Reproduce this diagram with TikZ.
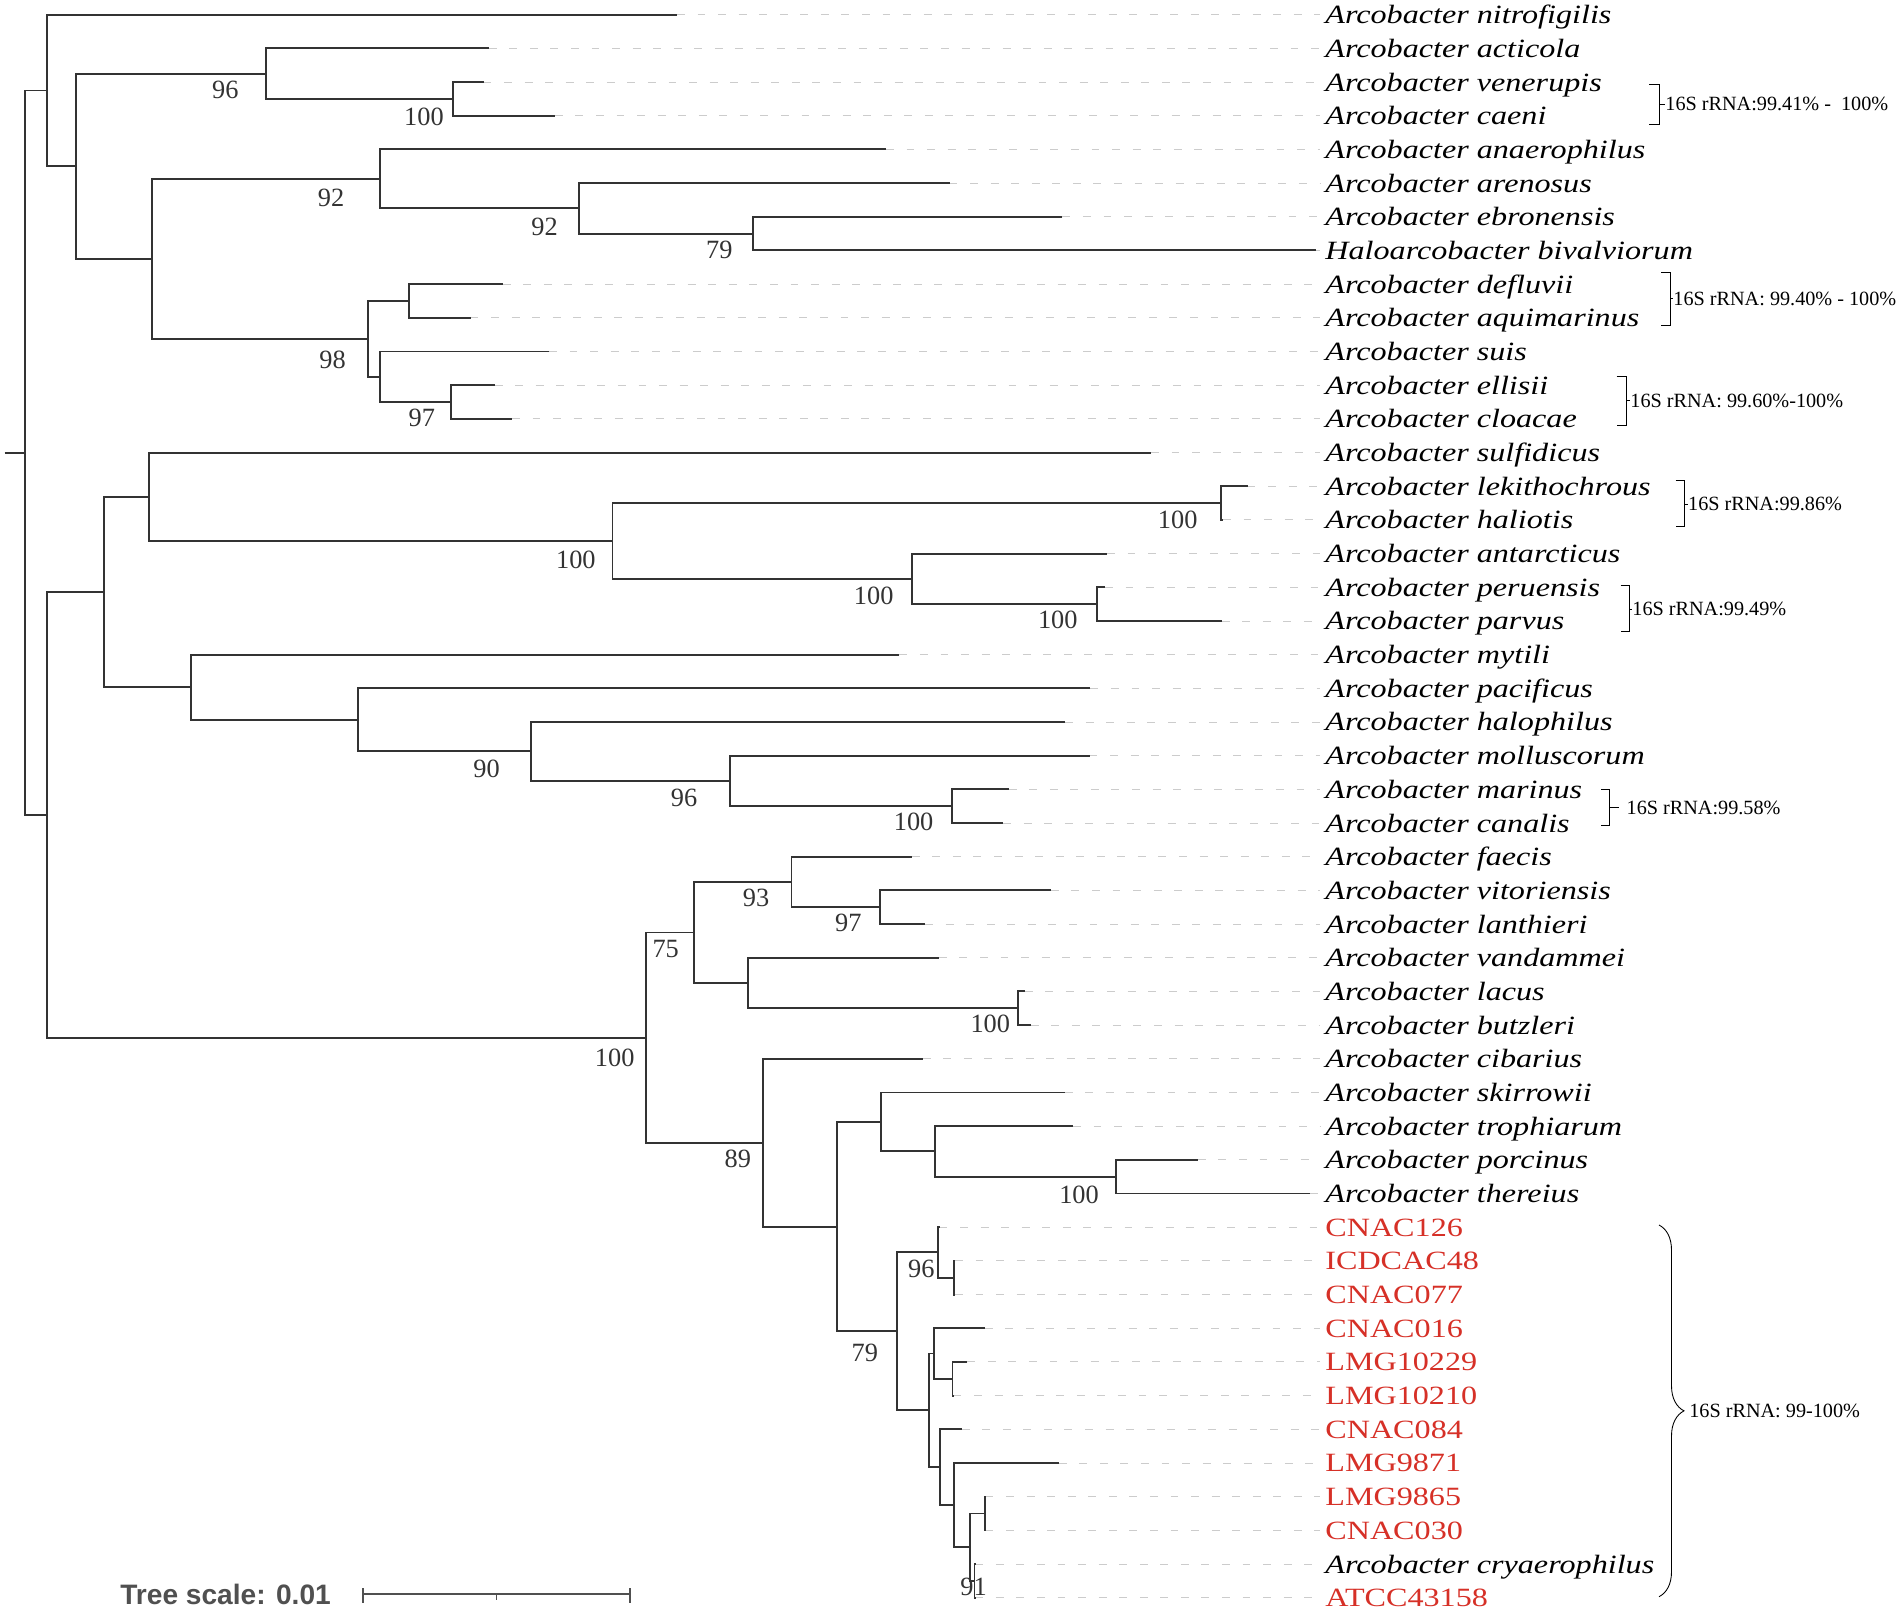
\documentclass[tikz,border=0pt]{standalone}
\usepackage{fontspec}
\setmainfont{Liberation Serif}
\newfontfamily\leaffont{Liberation Serif}[FakeStretch=1.22]
\newfontfamily\barfont{Liberation Sans}
\usepackage{tikz}
\usetikzlibrary{calc,decorations.pathreplacing}
\definecolor{branchgray}{HTML}{333333}
\definecolor{leadergray}{HTML}{CCCCCC}
\definecolor{isolatered}{RGB}{214,48,39}
\definecolor{scalegray}{HTML}{505050}
\tikzset{
	branch/.style = {draw=branchgray, line width=1.1pt},
	leader/.style = {draw=leadergray, line width=0.5pt, dash pattern=on 4.5pt off 7.2pt, shorten >=0.1cm},
	leaflabel/.style = {anchor=base west, inner sep=0pt, font=\leaffont\fontsize{15}{18}\selectfont},
	boot/.style = {inner sep=0pt, text=branchgray, font=\fontsize{15}{18}\selectfont},
	bracket/.style = {draw=black, line width=0.5pt},
	bracketlabel/.style = {anchor=west, inner sep=0pt, font=\fontsize{11.5}{14}\selectfont},
}
\newcommand{\taxon}[1]{\itshape #1}
\newcommand{\isolate}[1]{\color{isolatered}#1}
% clade: name, x of the split, upper child, lower child
\newcommand{\clade}[4]{%
	\path ($(#3)!.5!(#4)$) coordinate (#1m);
	\coordinate (#1x) at (#2,0);
	\coordinate (#1) at (#1x |- #1m);
	\draw[branch] (#3) -| (#1) |- (#4);
}

\begin{document}
\begin{tikzpicture}[x=0.02cm, y=-0.02cm]
	\useasboundingbox (0,0) rectangle (1902,1609);

	% leaves: end of branch / label
	\foreach \xe/\txt [count=\i from 0] in {
		677/\taxon{Arcobacter nitrofigilis},
		488.8/\taxon{Arcobacter acticola},
		483.5/\taxon{Arcobacter venerupis},
		554.9/\taxon{Arcobacter caeni},
		886/\taxon{Arcobacter anaerophilus},
		949.5/\taxon{Arcobacter arenosus},
		1062.4/\taxon{Arcobacter ebronensis},
		1316/\taxon{Haloarcobacter bivalviorum},
		502.7/\taxon{Arcobacter defluvii},
		470.5/\taxon{Arcobacter aquimarinus},
		549/\taxon{Arcobacter suis},
		494.6/\taxon{Arcobacter ellisii},
		512/\taxon{Arcobacter cloacae},
		1151/\taxon{Arcobacter sulfidicus},
		1247.5/\taxon{Arcobacter lekithochrous},
		1223/\taxon{Arcobacter haliotis},
		1107/\taxon{Arcobacter antarcticus},
		1105/\taxon{Arcobacter peruensis},
		1221.7/\taxon{Arcobacter parvus},
		899.4/\taxon{Arcobacter mytili},
		1090.4/\taxon{Arcobacter pacificus},
		1065.2/\taxon{Arcobacter halophilus},
		1089.5/\taxon{Arcobacter molluscorum},
		1008.7/\taxon{Arcobacter marinus},
		1003.2/\taxon{Arcobacter canalis},
		911.8/\taxon{Arcobacter faecis},
		1050.9/\taxon{Arcobacter vitoriensis},
		925.1/\taxon{Arcobacter lanthieri},
		938.9/\taxon{Arcobacter vandammei},
		1024.8/\taxon{Arcobacter lacus},
		1030.7/\taxon{Arcobacter butzleri},
		922.8/\taxon{Arcobacter cibarius},
		1064.7/\taxon{Arcobacter skirrowii},
		1073/\taxon{Arcobacter trophiarum},
		1197.9/\taxon{Arcobacter porcinus},
		1310.4/\taxon{Arcobacter thereius},
		939.5/\isolate{CNAC126},
		955/\isolate{ICDCAC48},
		955/\isolate{CNAC077},
		984.7/\isolate{CNAC016},
		967.3/\isolate{LMG10229},
		953.5/\isolate{LMG10210},
		961.7/\isolate{CNAC084},
		1058.7/\isolate{LMG9871},
		985.5/\isolate{LMG9865},
		985.5/\isolate{CNAC030},
		975.3/\taxon{Arcobacter cryaerophilus},
		975.3/\isolate{ATCC43158}}{
		\coordinate (l\i) at (\xe, {14.7+33.68*\i});
		\node[leaflabel] (t\i) at (1325, {23.7+33.68*\i}) {\txt};
		\draw[leader] (l\i) -- (t\i.west |- l\i);
	}

	% upper part of the tree
	\clade{E}{452.7}{l2}{l3}
	\clade{C}{266}{l1}{E}
	\clade{I}{752.9}{l6}{l7}
	\clade{H}{579}{l5}{I}
	\clade{F}{380.3}{l4}{H}
	\clade{J}{408.9}{l8}{l9}
	\clade{L}{451.3}{l11}{l12}
	\clade{K}{379.9}{l10}{L}
	\clade{G}{368.3}{J}{K}
	\clade{D}{152.2}{F}{G}
	\clade{B}{75.9}{C}{D}
	\clade{A}{46.9}{l0}{B}

	% middle part
	\clade{R}{1220.8}{l14}{l15}
	\clade{T}{1097.3}{l17}{l18}
	\clade{S}{911.8}{l16}{T}
	\clade{Q}{612.5}{R}{S}
	\clade{O}{149.1}{l13}{Q}
	\clade{X}{951.7}{l23}{l24}
	\clade{W}{730.4}{l22}{X}
	\clade{V}{531.2}{l21}{W}
	\clade{U}{357.6}{l20}{V}
	\clade{P}{190.6}{l19}{U}
	\clade{N}{103.6}{O}{P}

	% lower part
	\clade{AB}{879.7}{l26}{l27}
	\clade{AA}{791.5}{l25}{AB}
	\clade{AD}{1017.9}{l29}{l30}
	\clade{AC}{747.9}{l28}{AD}
	\clade{Z}{694.1}{AA}{AC}
	\clade{AI}{1115.7}{l34}{l35}
	\clade{AH}{934.8}{l33}{AI}
	\clade{AG}{880.6}{l32}{AH}
	\clade{AL}{954.1}{l37}{l38}
	\clade{AK}{938.3}{l36}{AL}
	\clade{AO}{952.5}{l40}{l41}
	\clade{AN}{934.2}{l39}{AO}
	\clade{AS}{984.7}{l44}{l45}
	\clade{AT}{974.5}{l46}{l47}
	\clade{AR}{969.9}{AS}{AT}
	\clade{AQ}{954.1}{l43}{AR}
	\clade{AP}{939.8}{l42}{AQ}
	\clade{AM}{928.6}{AN}{AP}
	\clade{AJ}{897.4}{AK}{AM}
	\clade{AF}{837}{AG}{AJ}
	\clade{AE}{763}{l31}{AF}
	\clade{Y}{646}{Z}{AE}
	\clade{M}{46.9}{N}{Y}
	\clade{root}{25.4}{A}{M}
	\coordinate (stub) at (4.5,0);
	\draw[branch] (stub |- root) -- (root);

	% bootstrap values
	\node[boot] (bC) at (225.4,90) {96};
	\node[boot] (bE) at (424,116.7) {100};
	\node[boot] (bF) at (331,198) {92};
	\node[boot] (bH) at (544.6,227) {92};
	\node[boot] (bI) at (719.4,250) {79};
	\node[boot] (bG) at (332.6,360) {98};
	\node[boot] (bL) at (421.8,418.3) {97};
	\node[boot] (bQ) at (575.9,560) {100};
	\node[boot] (bR) at (1177.7,520) {100};
	\node[boot] (bS) at (873.7,595.7) {100};
	\node[boot] (bT) at (1057.8,620) {100};
	\node[boot] (bV) at (486.6,769.3) {90};
	\node[boot] (bW) at (684,798.3) {96};
	\node[boot] (bX) at (913.6,822.3) {100};
	\node[boot] (bY) at (614.7,1058.3) {100};
	\node[boot] (bZ) at (665.7,949.3) {75};
	\node[boot] (bAA) at (756.1,898.3) {93};
	\node[boot] (bAB) at (848.4,923.3) {97};
	\node[boot] (bAD) at (990.3,1024.3) {100};
	\node[boot] (bAE) at (737.8,1159.3) {89};
	\node[boot] (bAI) at (1079,1195) {100};
	\node[boot] (bAJ) at (864.8,1353.3) {79};
	\node[boot] (bAK) at (921.4,1269.3) {96};
	\node[boot] (bAT) at (973.5,1586.7) {91};

	% 16S rRNA brackets
	\draw[bracket] (1649,84) -- (1659,84) -- (1659,124) -- (1649,124);
	\draw[bracket] (1659,104) -- (1665,104) node[bracketlabel] (r1) {16S rRNA:99.41\% -\ \ 100\%};
	\draw[bracket] (1661,272) -- (1670.5,272) -- (1670.5,325) -- (1661,325);
	\draw[bracket] (1670.5,298.5) -- (1673,298.5) node[bracketlabel] (r2) {16S rRNA: 99.40\% - 100\%};
	\draw[bracket] (1616.7,376) -- (1626.3,376) -- (1626.3,425) -- (1616.7,425);
	\draw[bracket] (1626.3,400.5) -- (1630,400.5) node[bracketlabel] (r3) {16S rRNA: 99.60\%-100\%};
	\draw[bracket] (1675.5,480) -- (1684,480) -- (1684,526) -- (1675.5,526);
	\draw[bracket] (1684,504) -- (1687.7,504) node[bracketlabel] (r4) {16S rRNA:99.86\%};
	\draw[bracket] (1620.6,585) -- (1629.4,585) -- (1629.4,631.7) -- (1620.6,631.7);
	\draw[bracket] (1629.4,609) -- (1632,609) node[bracketlabel] (r5) {16S rRNA:99.49\%};
	\draw[bracket] (1601.4,789.3) -- (1609,789.3) -- (1609,825) -- (1601.4,825);
	\draw[bracket] (1609,807.5) -- (1618.6,807.5);
	\node[bracketlabel] (r6) at (1626.3,807.5) {16S rRNA:99.58\%};
	\draw[bracket, decorate, decoration={brace, amplitude=0.5cm}] (1659,1225) -- (1659,1596.7);
	\node[bracketlabel] (r7) at (1689,1410.7) {16S rRNA: 99-100\%};

	% tree scale
	\node[anchor=base west, inner sep=0pt, text=scalegray, font=\barfont\bfseries\fontsize{16}{19}\selectfont] (scaletext) at (120,1604) {Tree scale: 0.01};
	\coordinate (sb0) at (363.2,1594);
	\coordinate (sb1) at (630,1594);
	\coordinate (sbm) at (496.4,1594);
	\draw[scalegray, line width=1.2pt] (sb0) -- (sb1);
	\draw[scalegray, line width=1.2pt] ([yshift=0.12cm]sb0) -- ([yshift=-0.17cm]sb0);
	\draw[scalegray, line width=1.2pt] ([yshift=0.12cm]sb1) -- ([yshift=-0.17cm]sb1);
	\draw[scalegray, line width=1pt] (sbm) -- ([yshift=-0.12cm]sbm);
\end{tikzpicture}
\end{document}
